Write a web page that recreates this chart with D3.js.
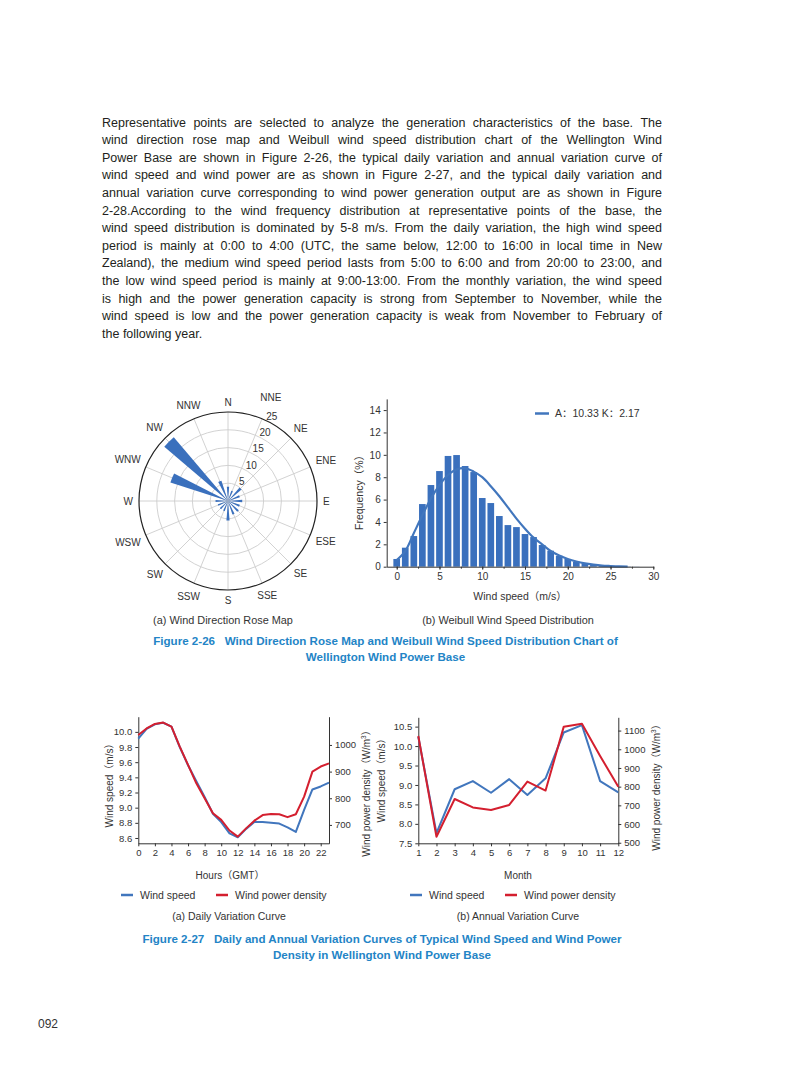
<!DOCTYPE html>
<html><head><meta charset="utf-8">
<script src="https://cdn.jsdelivr.net/npm/d3@7"></script>
<style>
body{margin:0;background:#fff;}
svg{display:block;}
</style></head>
<body>
<script>
// ---------------- DATA ----------------
const paraLines = [
"Representative points are selected to analyze the generation characteristics of the base. The",
"wind direction rose map and Weibull wind speed distribution chart of the Wellington Wind",
"Power Base are shown in Figure 2-26, the typical daily variation and annual variation curve of",
"wind speed and wind power are as shown in Figure 2-27, and the typical daily variation and",
"annual variation curve corresponding to wind power generation output are as shown in Figure",
"2-28.According to the wind frequency distribution at representative points of the base, the",
"wind speed distribution is dominated by 5-8 m/s. From the daily variation, the high wind speed",
"period is mainly at 0:00 to 4:00 (UTC, the same below, 12:00 to 16:00 in local time in New",
"Zealand), the medium wind speed period lasts from 5:00 to 6:00 and from 20:00 to 23:00, and",
"the low wind speed period is mainly at 9:00-13:00. From the monthly variation, the wind speed",
"is high and the power generation capacity is strong from September to November, while the",
"wind speed is low and the power generation capacity is weak from November to February of",
"the following year."
];

const dirLabels = ["N","NNE","NE","ENE","E","ESE","SE","SSE","S","SSW","SW","WSW","W","WNW","NW","NNW"];
const dirFreq   = [4, 3, 5, 3.5, 4, 3.5, 4, 4, 5.5, 3, 3, 3, 3.5, 17, 23.5, 6];
const roseTicks = [5, 10, 15, 20, 25];

const speedBins = [0,1,2,3,4,5,6,7,8,9,10,11,12,13,14,15,16,17,18,19,20,21,22,23,24,25,26,27,28];
const binFreq   = [0.69,1.7,2.74,5.6,7.3,8.55,9.9,9.98,9.0,8.46,6.14,5.69,4.53,3.72,3.54,2.92,2.65,1.94,1.43,0.98,0.69,0.45,0.3,0.2,0.12,0.07,0.04,0.02,0.01];
const fitSpeed  = [0,1,2,3,4,5,6,7,8,9,10,11,12,13,14,15,16,17,18,19,20,21,22,23,24,25,26,27];
const fitFreq   = [0.6,1.4,3.0,4.6,6.1,7.3,8.2,8.7,8.8,8.5,8.0,7.2,6.3,5.3,4.3,3.4,2.6,2.0,1.4,1.0,0.69,0.46,0.29,0.18,0.1,0.06,0.03,0.02];
const histYTicks = [0,2,4,6,8,10,12,14];
const histXTicks = [0,5,10,15,20,25,30];

const hours      = [0,1,2,3,4,5,6,7,8,9,10,11,12,13,14,15,16,17,18,19,20,21,22,23];
const dailySpeed = [9.91,10.04,10.10,10.12,10.07,9.80,9.56,9.35,9.14,8.92,8.81,8.66,8.61,8.72,8.81,8.81,8.80,8.79,8.74,8.68,8.97,9.24,9.28,9.33];
const dailyPower = [1037,1062,1079,1084,1069,994,925,856,800,744,719,679,656,687,716,737,741,740,729,740,806,900,919,931];
const hourTicks  = [0,2,4,6,8,10,12,14,16,18,20,22];
const dailySpeedTicks = [8.6,8.8,9.0,9.2,9.4,9.6,9.8,10.0];
const dailyPowerTicks = [700,800,900,1000];

const months      = [1,2,3,4,5,6,7,8,9,10,11,12];
const monthSpeed  = [10.24,7.76,8.89,9.10,8.80,9.15,8.74,9.17,10.35,10.54,9.10,8.81];
const monthPower  = [1071,532,734,689,675,702,827,779,1121,1136,964,800];
const monthSpeedTicks = [7.5,8.0,8.5,9.0,9.5,10.0,10.5];
const monthPowerTicks = [500,600,700,800,900,1000,1100];

// ---------------- STYLE ----------------
const FONT = "'Liberation Sans', Arial, 'Noto Sans CJK SC', sans-serif";
const BLUE_BAR = "#3a70bd", BLUE = "#4176bd", RED = "#d41f2f", CAP = "#2384c6", TXT = "#333";

const svg = d3.select("body").append("svg")
  .attr("width", 793).attr("height", 1077)
  .style("font-family", FONT);

// ---------------- PARAGRAPH ----------------
const pg = svg.append("g").attr("font-size", 12.5).attr("fill", "#231f20");
paraLines.forEach((t, i) => {
  const y = 126.5 + i * 17.6;
  const words = t.split(" ");
  const txt = pg.append("text").attr("y", y);
  const spans = words.map(w => txt.append("tspan").text(w));
  const widths = spans.map(s => s.node().getComputedTextLength());
  const total = d3.sum(widths);
  const last = i === paraLines.length - 1;
  const gap = last ? 3.5 : (560 - total) / (words.length - 1);
  let x = 102;
  spans.forEach((s, k) => { s.attr("x", x); x += widths[k] + gap; });
});

// ---------------- ROSE ----------------
const rc = {x: 228, y: 501};
const rr = d3.scaleLinear().domain([0, 25]).range([0, 89]);
const rose = svg.append("g").attr("transform", `translate(${rc.x},${rc.y})`);
const ang = i => i * 2 * Math.PI / dirLabels.length;
rose.selectAll("circle.grid").data(roseTicks.slice(0, -1)).enter().append("circle")
  .attr("r", d => rr(d)).attr("fill", "none").attr("stroke", "#cdcdcd").attr("stroke-width", 0.9);
rose.selectAll("line.spoke").data(dirLabels).enter().append("line")
  .attr("x1", 0).attr("y1", 0)
  .attr("x2", (d, i) => rr(25) * Math.sin(ang(i)))
  .attr("y2", (d, i) => -rr(25) * Math.cos(ang(i)))
  .attr("stroke", "#cdcdcd").attr("stroke-width", 0.9);
const hw = 4.6 * Math.PI / 180;
const arc = d3.arc().innerRadius(0).outerRadius(d => rr(d.v))
  .startAngle(d => d.a - hw).endAngle(d => d.a + hw);
rose.selectAll("path.w").data(dirFreq.map((v, i) => ({v, a: ang(i)}))).enter().append("path")
  .attr("d", arc).attr("fill", BLUE_BAR);
rose.append("circle").attr("r", rr(25)).attr("fill", "none").attr("stroke", "#222").attr("stroke-width", 1.2);
// radial tick labels along NNE
roseTicks.forEach(v => {
  const a = ang(1), r = rr(v) + 3;
  rose.append("text").attr("x", r * Math.sin(a) + 3).attr("y", -r * Math.cos(a))
    .attr("dy", "0.35em").attr("font-size", 10).attr("fill", TXT).text(v);
});
// direction labels
dirLabels.forEach((d, i) => {
  const a = ang(i);
  const t = rose.append("text").attr("font-size", 10).attr("fill", TXT)
    .attr("text-anchor", "middle").attr("dy", "0.35em").text(d);
  const w = t.node().getComputedTextLength();
  const R = 95 + (w / 2) * Math.abs(Math.sin(a)) + 4 * Math.abs(Math.cos(a)) + (i === 1 ? 9 : 0);
  t.attr("x", R * Math.sin(a)).attr("y", -R * Math.cos(a));
});

// ---------------- HISTOGRAM ----------------
const hx = d3.scaleLinear().domain([-1.17, 30]).range([386.7, 653.3]);
const hy = d3.scaleLinear().domain([0, 15]).range([566.7, 398.9]);
const hist = svg.append("g");
const bw = (hx(1) - hx(0)) * 0.78;
hist.selectAll("rect").data(speedBins).enter().append("rect")
  .attr("x", d => hx(d) - bw / 2).attr("width", bw)
  .attr("y", (d, i) => hy(binFreq[i])).attr("height", (d, i) => hy(0) - hy(binFreq[i]))
  .attr("fill", BLUE_BAR);
hist.append("path").datum(fitSpeed)
  .attr("d", d3.line().x(d => hx(d)).y((d, i) => hy(fitFreq[i])).curve(d3.curveCatmullRom))
  .attr("fill", "none").attr("stroke", BLUE).attr("stroke-width", 2.2);
const hxAxis = hist.append("g").attr("transform", `translate(0,${hy(0)})`)
  .call(d3.axisBottom(hx).tickValues(histXTicks).tickSize(3).tickSizeOuter(0));
const hxMinor = hist.append("g").attr("transform", `translate(0,${hy(0)})`)
  .call(d3.axisBottom(hx).tickValues(d3.range(0, 31, 2.5)).tickSize(2).tickFormat("").tickSizeOuter(0));
hxMinor.select(".domain").remove();
const hyAxis = hist.append("g").attr("transform", `translate(${hx.range()[0]},0)`)
  .call(d3.axisLeft(hy).tickValues(histYTicks).tickSize(3).tickSizeOuter(0));
[hxAxis, hyAxis, hxMinor].forEach(g => {
  g.selectAll("path,line").attr("stroke", "#333");
  g.selectAll("text").attr("font-size", 10).attr("fill", TXT).style("font-family", FONT);
});
hist.append("text").attr("x", 520).attr("y", 600).attr("text-anchor", "middle")
  .attr("font-size", 10.5).attr("fill", TXT).text("Wind speed（m/s）");
hist.append("text").attr("transform", "translate(363,490) rotate(-90)").attr("text-anchor", "middle")
  .attr("font-size", 10.5).attr("fill", TXT).text("Frequency（%）");
hist.append("line").attr("x1", 535).attr("x2", 549).attr("y1", 413.5).attr("y2", 413.5)
  .attr("stroke", BLUE).attr("stroke-width", 2.5);
hist.append("text").attr("x", 555).attr("y", 413.5).attr("dy", "0.35em")
  .attr("font-size", 10.5).attr("fill", TXT).text("A：10.33 K：2.17");

// captions fig 2-26
svg.append("text").attr("x", 223).attr("y", 624).attr("text-anchor", "middle")
  .attr("font-size", 10.9).attr("fill", TXT).text("(a) Wind Direction Rose Map");
svg.append("text").attr("x", 508).attr("y", 624).attr("text-anchor", "middle")
  .attr("font-size", 10.9).attr("fill", TXT).text("(b) Weibull Wind Speed Distribution");
svg.append("text").attr("x", 385.5).attr("y", 645).attr("text-anchor", "middle").attr("xml:space", "preserve")
  .attr("font-size", 11.6).attr("font-weight", "bold").attr("fill", CAP)
  .text("Figure 2-26   Wind Direction Rose Map and Weibull Wind Speed Distribution Chart of");
svg.append("text").attr("x", 385.5).attr("y", 661).attr("text-anchor", "middle")
  .attr("font-size", 11.6).attr("font-weight", "bold").attr("fill", CAP)
  .text("Wellington Wind Power Base");

// ---------------- DUAL AXIS LINE CHART ----------------
function dualChart(o) {
  const g = svg.append("g");
  const x = d3.scaleLinear().domain(o.xDomain).range([o.left, o.right]);
  const yl = d3.scaleLinear().domain(o.ylDomain).range([o.bottom, o.top]);
  const yr = d3.scaleLinear().domain(o.yrDomain).range([o.bottom, o.top]);
  const styleAxis = a => {
    a.selectAll("path,line").attr("stroke", "#333");
    a.selectAll("text").attr("font-size", 9.5).attr("fill", TXT).style("font-family", FONT);
  };
  styleAxis(g.append("g").attr("transform", `translate(0,${o.bottom})`)
    .call(d3.axisBottom(x).tickValues(o.xTicks).tickSize(3).tickSizeOuter(0)));
  styleAxis(g.append("g").attr("transform", `translate(${o.left},0)`)
    .call(d3.axisLeft(yl).tickValues(o.ylTicks).tickFormat(d3.format(".1f")).tickSize(3).tickSizeOuter(0)));
  styleAxis(g.append("g").attr("transform", `translate(${o.right},0)`)
    .call(d3.axisRight(yr).tickValues(o.yrTicks).tickFormat(d3.format("d")).tickSize(3).tickSizeOuter(0)));
  g.append("path").datum(o.xs)
    .attr("d", d3.line().x(d => x(d)).y((d, i) => yl(o.speed[i])))
    .attr("fill", "none").attr("stroke", BLUE).attr("stroke-width", 2).attr("stroke-linejoin", "round");
  g.append("path").datum(o.xs)
    .attr("d", d3.line().x(d => x(d)).y((d, i) => yr(o.power[i])))
    .attr("fill", "none").attr("stroke", RED).attr("stroke-width", 2).attr("stroke-linejoin", "round");
  // axis titles
  g.append("text").attr("x", o.xTitleX).attr("y", 879).attr("text-anchor", "middle")
    .attr("font-size", 10).attr("fill", TXT).text(o.xTitle);
  g.append("text").attr("transform", `translate(${o.ylTitle[0]},${o.ylTitle[1]}) rotate(-90)`)
    .attr("text-anchor", "middle").attr("font-size", 10).attr("fill", TXT).text("Wind speed（m/s）");
  const rt = g.append("text").attr("transform", `translate(${o.yrTitle[0]},${o.yrTitle[1]}) rotate(-90)`)
    .attr("text-anchor", "middle").attr("font-size", 10).attr("fill", TXT);
  rt.append("tspan").text("Wind power density（W/m");
  rt.append("tspan").attr("font-size", 6.5).attr("dy", -4).text("3");
  rt.append("tspan").attr("dy", 4).text("）");
  // legend
  g.append("line").attr("x1", o.leg).attr("x2", o.leg + 12).attr("y1", 895).attr("y2", 895)
    .attr("stroke", BLUE).attr("stroke-width", 2.5);
  g.append("text").attr("x", o.leg + 19).attr("y", 895).attr("dy", "0.35em")
    .attr("font-size", 10.5).attr("fill", TXT).text("Wind speed");
  g.append("line").attr("x1", o.leg + 95).attr("x2", o.leg + 107).attr("y1", 895).attr("y2", 895)
    .attr("stroke", RED).attr("stroke-width", 2.5);
  g.append("text").attr("x", o.leg + 114).attr("y", 895).attr("dy", "0.35em")
    .attr("font-size", 10.5).attr("fill", TXT).text("Wind power density");
  g.append("text").attr("x", o.capX).attr("y", 920).attr("text-anchor", "middle")
    .attr("font-size", 10.5).attr("fill", TXT).text(o.caption);
}

dualChart({
  xs: hours, speed: dailySpeed, power: dailyPower,
  xDomain: [0, 23], left: 138.3, right: 329, top: 716.7, bottom: 843.3,
  ylDomain: [8.53, 10.2], yrDomain: [631, 1106],
  xTicks: hourTicks, ylTicks: dailySpeedTicks, yrTicks: dailyPowerTicks,
  xTitle: "Hours（GMT）", xTitleX: 230, ylTitle: [113, 783], yrTitle: [370, 791],
  leg: 121, capX: 229, caption: "(a) Daily Variation Curve"
});
dualChart({
  xs: months, speed: monthSpeed, power: monthPower,
  xDomain: [1, 12], left: 418.3, right: 618.3, top: 717.3, bottom: 843.3,
  ylDomain: [7.5, 10.74], yrDomain: [497, 1171],
  xTicks: months, ylTicks: monthSpeedTicks, yrTicks: monthPowerTicks,
  xTitle: "Month", xTitleX: 518, ylTitle: [385, 778], yrTitle: [660, 785],
  leg: 410, capX: 518, caption: "(b) Annual Variation Curve"
});

svg.append("text").attr("x", 382).attr("y", 943).attr("text-anchor", "middle").attr("xml:space", "preserve")
  .attr("font-size", 11.6).attr("font-weight", "bold").attr("fill", CAP)
  .text("Figure 2-27   Daily and Annual Variation Curves of Typical Wind Speed and Wind Power");
svg.append("text").attr("x", 382).attr("y", 959).attr("text-anchor", "middle")
  .attr("font-size", 11.6).attr("font-weight", "bold").attr("fill", CAP)
  .text("Density in Wellington Wind Power Base");

svg.append("text").attr("x", 38).attr("y", 1028).attr("font-size", 12).attr("fill", "#333").text("092");
</script>
</body></html>
